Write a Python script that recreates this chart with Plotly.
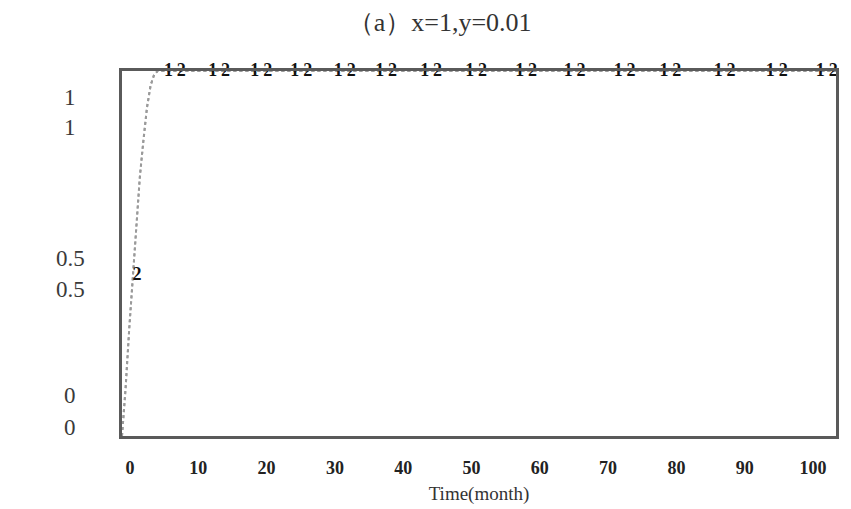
import plotly.graph_objects as go

# simulation output (Vensim style run, both variables overlap)
time = [0, 0.5, 1, 1.5, 2, 2.5, 3, 3.5, 4, 4.5, 5, 10, 20, 30, 40, 50, 60, 70, 80, 90, 100]
var1 = [0, 0.13, 0.29, 0.44, 0.58, 0.71, 0.81, 0.9, 0.96, 0.99, 1, 1, 1, 1, 1, 1, 1, 1, 1, 1, 1]
var2 = [0, 0.13, 0.29, 0.44, 0.58, 0.71, 0.81, 0.9, 0.96, 0.99, 1, 1, 1, 1, 1, 1, 1, 1, 1, 1, 1]

# where the line numbers "1" / "2" are printed on each line
label1_t = [6.5, 12.7, 18.6, 24.2, 30.3, 36.1, 42.4, 48.7, 55.7, 62.5, 69.5, 75.9, 83.5, 90.8, 97.8]
label1_v = [1] * len(label1_t)
label2_t = [2.1] + [t + 1.8 for t in label1_t]
label2_v = [0.44] + [1] * len(label1_t)

x_ticks = [0, 10, 20, 30, 40, 50, 60, 70, 80, 90, 100]
y_ticks = [1, 0.5, 0]
y_text = ["1", "0.5", "0"]

SERIF = "Liberation Serif, Times New Roman, serif"

fig = go.Figure()
for v in (var1, var2):
    fig.add_trace(go.Scatter(
        x=time, y=v, mode="lines",
        line=dict(color="#9a9a9a", width=2, dash="dot"),
        hoverinfo="skip", showlegend=False,
    ))

for tx, ty, lab in ((label1_t, label1_v, "1"), (label2_t, label2_v, "2")):
    fig.add_trace(go.Scatter(
        x=tx, y=ty, mode="text", text=[lab] * len(tx),
        textposition="middle center",
        textfont=dict(family=SERIF, size=18, color="#111", weight="bold"),
        cliponaxis=False, showlegend=False, hoverinfo="skip",
    ))

# time labels sit on their own (slightly compressed) axis, as in the scan
fig.add_trace(go.Scatter(x=x_ticks, y=[0.5] * len(x_ticks), xaxis="x2", mode="none",
                         showlegend=False, hoverinfo="skip"))

# two stacked labels per tick (one per variable), nudged like the original
nudges = {1: (-26, -56), 0.5: (-5, -36), 0: (41, 9)}
annotations = []
for val, txt in zip(y_ticks, y_text):
    for dy in nudges[val]:
        annotations.append(dict(
            x=0, xref="paper", xanchor="center", xshift=-52,
            y=val, yref="y", yshift=dy, yanchor="middle",
            text=txt, showarrow=False,
            font=dict(family=SERIF, size=23, color="#3a3a3a"),
        ))

# page body adds an 8px margin, so the figure is 8px smaller on each axis
fig.update_layout(
    width=843, height=501,
    margin=dict(l=114, r=15, t=63, b=73),
    paper_bgcolor="white", plot_bgcolor="white",
    title=dict(
        text="（a）x=1,y=0.01", x=0.512, xref="container", xanchor="center",
        y=0.972, yref="container", yanchor="middle",
        font=dict(family=SERIF, size=26, color="#333"),
    ),
    xaxis=dict(
        range=[0, 100], showticklabels=False, ticks="", showgrid=False, zeroline=False,
        showline=True, mirror=True, linecolor="#5a5a5a", linewidth=3, automargin=False,
        title=dict(text="Time(month)", standoff=49,
                   font=dict(family=SERIF, size=19, color="#333")),
    ),
    xaxis2=dict(
        range=[-1.17, 103.37], overlaying="x", side="bottom", anchor="y",
        tickvals=x_ticks, ticks="", showgrid=False, zeroline=False, showline=False,
        tickfont=dict(family=SERIF, size=18, color="#222", weight="bold"),
        ticklabelstandoff=19, automargin=False,
    ),
    yaxis=dict(
        range=[0, 1], showticklabels=False, ticks="", showgrid=False, zeroline=False,
        showline=True, mirror=True, linecolor="#5a5a5a", linewidth=3, automargin=False,
    ),
    annotations=annotations,
)

fig.write_html("out.html")
